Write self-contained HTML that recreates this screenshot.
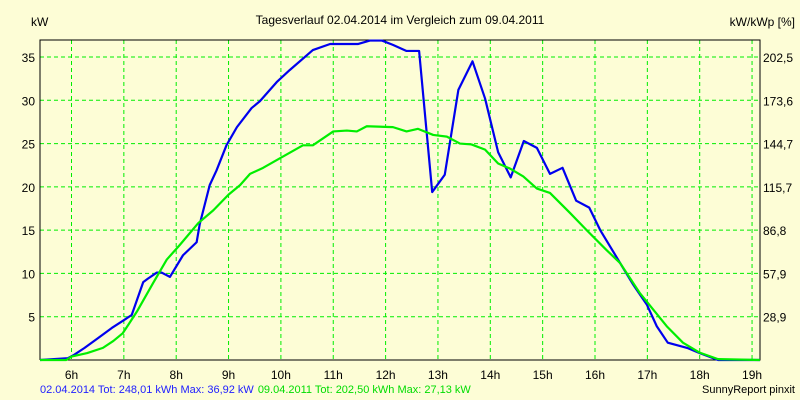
<!DOCTYPE html>
<html><head><meta charset="utf-8"><style>
body{margin:0;background:#fdfdd6;}
svg{display:block;font-family:"Liberation Sans",sans-serif;}
</style></head><body>
<svg id="c" width="800" height="400">
<rect width="800" height="400" fill="#fdfdd6"/>
<g id="grid"></g>
<g id="axes"></g>
<g id="series"></g>
<text x="400" y="24" font-size="12" text-anchor="middle" fill="#000">Tagesverlauf 02.04.2014 im Vergleich zum 09.04.2011</text>
<text x="31" y="26" font-size="12" fill="#000">kW</text>
<text x="795" y="26" font-size="12" text-anchor="end" fill="#000">kW/kWp [%]</text>
<text x="40" y="393" font-size="11"><tspan fill="#2020ff">02.04.2014 Tot: 248,01 kWh Max: 36,92 kW</tspan><tspan fill="#00dd00" dx="4">09.04.2011 Tot: 202,50 kWh Max: 27,13 kW</tspan></text>
<text x="795" y="393" font-size="11" text-anchor="end" fill="#000">SunnyReport pinxit</text>
</svg>
<script>
const hourTicks=[6,7,8,9,10,11,12,13,14,15,16,17,18,19];
const kwTicks=[5,10,15,20,25,30,35];
const pctLabels=["28,9","57,9","86,8","115,7","144,7","173,6","202,5"];
const blueHours=[5.4,5.93,6.05,6.25,6.5,6.77,7.0,7.15,7.37,7.46,7.63,7.72,7.88,8.13,8.39,8.45,8.64,8.77,8.96,9.16,9.44,9.6,9.92,10.17,10.61,10.94,11.47,11.7,11.93,12.14,12.4,12.64,12.89,13.13,13.39,13.66,13.9,14.15,14.39,14.64,14.89,15.14,15.38,15.64,15.89,16.1,16.48,16.73,16.99,17.18,17.39,17.76,18.0,18.35,19.15];
const blueKW=[0,0.2,0.6,1.4,2.5,3.7,4.6,5.2,9.0,9.4,10.1,10.1,9.6,12.1,13.6,15.7,20.2,21.9,24.8,26.9,29.1,29.9,32.1,33.5,35.8,36.5,36.5,36.9,36.9,36.4,35.7,35.7,19.4,21.4,31.2,34.5,30.2,24.0,21.1,25.3,24.5,21.5,22.2,18.4,17.6,15.0,11.2,8.7,6.4,3.9,2.0,1.4,0.8,0,0];
const greenHours=[5.4,5.9,6.0,6.3,6.6,6.8,6.98,7.1,7.25,7.56,7.82,8.07,8.42,8.71,9.0,9.22,9.41,9.66,9.98,10.42,10.61,11.0,11.26,11.45,11.64,12.14,12.4,12.62,12.91,13.17,13.42,13.64,13.9,14.15,14.38,14.63,14.89,15.14,15.52,15.84,16.22,16.48,16.86,17.37,17.68,18.0,18.35,19.15];
const greenKW=[0,0,0.4,0.8,1.4,2.2,3.1,4.2,5.6,8.9,11.6,13.3,15.8,17.3,19.1,20.2,21.5,22.2,23.3,24.8,24.8,26.4,26.5,26.4,27.0,26.9,26.4,26.7,26.0,25.8,25.0,24.9,24.3,22.7,22.1,21.2,19.8,19.3,17.0,15.0,12.7,11.2,7.7,3.9,2.0,0.85,0.1,0];
const NS="http://www.w3.org/2000/svg";
const L=40,R=760,T=40,B=360;
const xs=h=>71.5+(h-6)*52.35;
const ys=v=>B-v*8.657;
function mk(tag,attrs,parent){const e=document.createElementNS(NS,tag);for(const k in attrs)e.setAttribute(k,attrs[k]);parent.appendChild(e);return e;}
const grid=document.getElementById('grid'),axes=document.getElementById('axes'),ser=document.getElementById('series');
hourTicks.forEach(h=>{
  const l=mk('line',{x1:xs(h),x2:xs(h),y1:T,y2:B,stroke:'#00ee00','stroke-dasharray':'4,3'},grid);
  
  
  const t=mk('text',{x:xs(h),y:379,'font-size':12,'text-anchor':'middle'},axes);
  t.textContent=h+'h';
  
  
});
kwTicks.forEach((v,i)=>{
  const l=mk('line',{x1:L,x2:R,y1:ys(v),y2:ys(v),stroke:'#00ee00','stroke-dasharray':'4,3'},grid);
  
  
  const t=mk('text',{x:35,y:ys(v)+5,'font-size':12,'text-anchor':'end'},axes);
  t.textContent=v;
  
  
  const t2=mk('text',{x:763,y:ys(v)+5,'font-size':12},axes);
  t2.textContent=pctLabels[i];
  
  
});
const frame=mk('path',{d:`M${L},${B}V${T}H${R}V${B}H${L}`,fill:'none',stroke:'#000','stroke-width':1},axes);


function line(hs,vs,col,name){
  const p=mk('polyline',{points:hs.map((h,i)=>xs(h)+','+ys(vs[i])).join(' '),fill:'none',stroke:col,'stroke-width':2.2,'stroke-linejoin':'round'},ser);
  
  
}
line(blueHours,blueKW,'#0000ee','series-2014-line');
line(greenHours,greenKW,'#00ee00','series-2011-line');
</script>
</body></html>
